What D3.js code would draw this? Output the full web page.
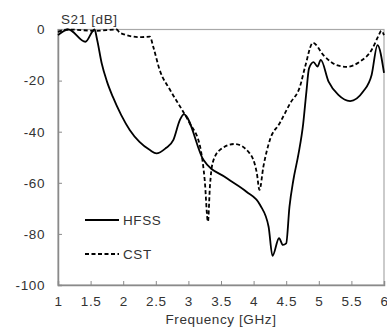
<!DOCTYPE html>
<html><head><meta charset="utf-8">
<script src="https://cdn.jsdelivr.net/npm/d3@7"></script>
<style>body{margin:0;background:#fff}svg{display:block;font-family:"Liberation Sans",Arial,sans-serif}</style>
</head><body><svg id="c" width="387" height="327"></svg>
<script>
const hfssFreq = [1.0,1.16,1.42,1.56,1.60,1.67,1.75,1.84,1.97,2.10,2.25,2.41,2.51,2.65,2.77,2.87,2.93,3.23,3.59,3.89,4.10,4.23,4.29,4.39,4.45,4.50,4.55,4.61,4.69,4.76,4.81,4.85,4.92,4.98,5.03,5.15,5.30,5.48,5.68,5.81,5.90,6.0];
const hfssDb   = [-2.2,0,-4.8,0,-4,-13.2,-20.3,-26.3,-33.5,-39.3,-44,-47.2,-48.5,-46.5,-43.2,-35.4,-33.2,-51,-58.2,-63.5,-68.7,-77.2,-88.6,-81.7,-84.3,-83.7,-69.4,-58.9,-48.5,-37,-24.3,-15.2,-12.8,-14.5,-11.9,-20.4,-25.6,-28,-24.3,-17.8,-6.1,-17];
const cstFreq = [1.0,1.15,1.59,1.9,1.95,2.26,2.41,2.46,2.56,2.72,2.92,3.02,3.18,3.25,3.30,3.33,3.37,3.48,3.71,3.94,4.05,4.09,4.15,4.25,4.40,4.56,4.71,4.79,4.91,5.07,5.27,5.43,5.63,5.81,5.91,5.96,6.0];
const cstDb   = [-0.9,0,-0.5,0,-1.3,-3,-2.8,-6.7,-15.9,-23.7,-32.2,-36.7,-45.9,-58.9,-75.2,-61.5,-52.4,-47.2,-44.8,-48.5,-56.3,-62.8,-53.7,-43.2,-36.7,-28.9,-22.4,-14.6,-5.2,-10,-13.9,-14.6,-12.6,-8,-2.8,-0.5,-2.2];
const xTicks = [1,1.5,2,2.5,3,3.5,4,4.5,5,5.5,6];
const yTicks = [0,-20,-40,-60,-80,-100];
const seriesNames = ["HFSS","CST"];

const svg = d3.select("#c");
const L=58,R=384,T=29.5,B=285;
const x = d3.scaleLinear().domain([1,6]).range([L,R]);
const y = d3.scaleLinear().domain([-100,0]).range([B,T]);
const gray="#8a8a8a", txt="#333";
const fs="13.5px", ls="0.6px";

svg.append("rect").attr("x",L).attr("y",T).attr("width",R-L).attr("height",B-T)
  .attr("fill","none").attr("stroke","#a8a8a8").attr("stroke-width",1.2);

const xa = svg.append("g").attr("transform",`translate(0,${B})`)
  .call(d3.axisBottom(x).tickValues(xTicks).tickSize(-4).tickPadding(11).tickFormat(d3.format("")));
const ya = svg.append("g").attr("transform",`translate(${L},0)`)
  .call(d3.axisLeft(y).tickValues(yTicks).tickSize(-4).tickPadding(13).tickFormat(d=>d));
[xa,ya].forEach(a=>{
  a.selectAll("path").attr("stroke",gray).attr("stroke-width",1.5);
  a.selectAll("line").attr("stroke",gray);
  a.selectAll("text").attr("fill",txt).style("font-size",fs).style("letter-spacing",ls)
   .style("font-family","'Liberation Sans',Arial,sans-serif");
});
xa.selectAll(".tick").filter(d=>d===6).select("text").attr("text-anchor","end").attr("x",4);

const line = d3.line().x(d=>x(d[0])).y(d=>y(d[1])).curve(d3.curveMonotoneX);
svg.append("path").datum(hfssFreq.map((f,i)=>[f,hfssDb[i]]))
  .attr("d",line).attr("fill","none").attr("stroke","#000").attr("stroke-width",1.8);
svg.append("path").datum(cstFreq.map((f,i)=>[f,cstDb[i]]))
  .attr("d",line).attr("fill","none").attr("stroke","#000").attr("stroke-width",1.8).attr("stroke-dasharray","4,2.5");

svg.append("text").attr("x",L+3).attr("y",24).attr("fill",txt).style("font-size",fs).style("letter-spacing",ls).text("S21 [dB]");
svg.append("text").attr("x",(L+R)/2).attr("y",324).attr("text-anchor","middle").attr("fill",txt).style("font-size",fs).style("letter-spacing",ls).text("Frequency [GHz]");

const lg = [[220,null],[254,"4,2.5"]];
seriesNames.forEach((n,i)=>{
  const ln = svg.append("line").attr("x1",85).attr("x2",119).attr("y1",lg[i][0]).attr("y2",lg[i][0])
    .attr("stroke","#000").attr("stroke-width",1.8);
  if(lg[i][1]) ln.attr("stroke-dasharray",lg[i][1]);
  svg.append("text").attr("x",123).attr("y",lg[i][0]+5).attr("fill",txt).style("font-size",fs).style("letter-spacing",ls).text(n);
});
</script></body></html>
